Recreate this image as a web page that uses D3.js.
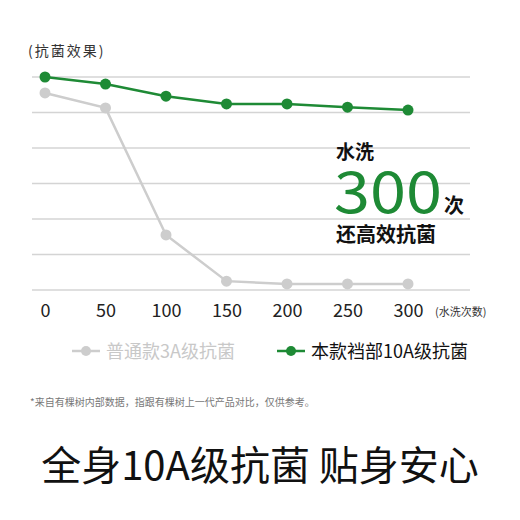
<!DOCTYPE html><html><head><meta charset="utf-8"><script src="https://cdn.jsdelivr.net/npm/d3@7"></script>
<style>body{margin:0;background:#fff}text{font-family:"Noto Sans CJK SC","Noto Sans",sans-serif}</style></head><body><svg id="c" width="520" height="520"></svg>
<script>
const categories=["0","50","100","150","200","250","300"];
const seriesNames=["普通款3A级抗菌","本款裆部10A级抗菌"];
const grayValues=[5.55,5.13,1.55,0.25,0.17,0.17,0.17];
const greenValues=[6.0,5.8,5.46,5.24,5.24,5.15,5.07];
const gridTicks=[0,1,2,3,4,5,6];
const svg=d3.select("#c");
const x=d3.scalePoint().domain(categories).range([45,408]);
const y=d3.scaleLinear().domain([0,6]).range([290,77]);
svg.append("g").selectAll("line").data(gridTicks).join("line").attr("x1",32).attr("x2",470).attr("y1",d=>y(d)).attr("y2",d=>y(d)).attr("stroke","#d4d4d4").attr("stroke-width",1.5);
svg.append("text").attr("x",28).attr("y",56).attr("font-size",14).attr("fill","#333").attr("letter-spacing",2).text("(抗菌效果)");
const ax=d3.axisBottom(x).tickSize(0).tickPadding(0);
const g=svg.append("g").attr("transform","translate(0,304)").call(ax);
g.select(".domain").remove();
g.selectAll("text").attr("font-size",18).attr("fill","#222").attr("font-family","Lato,sans-serif").attr("dy","0.7em");
svg.append("text").attr("x",435).attr("y",316).attr("font-size",11).attr("fill","#333").text("(水洗次数)");
const line=d3.line().x((d,i)=>x(categories[i])).y(d=>y(d));
[[grayValues,"#cdcdcd"],[greenValues,"#1e8a35"]].forEach(([vals,col])=>{
 svg.append("path").attr("d",line(vals)).attr("fill","none").attr("stroke",col).attr("stroke-width",2.5);
 svg.append("g").selectAll("circle").data(vals).join("circle").attr("cx",(d,i)=>x(categories[i])).attr("cy",d=>y(d)).attr("r",5.5).attr("fill",col);
});
svg.append("text").attr("x",336).attr("y",159).attr("font-size",19).attr("font-weight","bold").attr("fill","#111").text("水洗");
svg.append("text").attr("x",334).attr("y",213).attr("font-size",58).attr("font-family","Lato,sans-serif").attr("textLength",108).attr("lengthAdjust","spacingAndGlyphs").attr("fill","#1e8a35").text("300");
svg.append("text").attr("x",444).attr("y",213).attr("font-size",20).attr("font-weight","bold").attr("fill","#111").text("次");
svg.append("text").attr("x",336).attr("y",242).attr("font-size",20).attr("font-weight","bold").attr("fill","#111").text("还高效抗菌");
const leg=[[72,"#cdcdcd",seriesNames[0],"#c8c8c8"],[277,"#1e8a35",seriesNames[1],"#111"]];
leg.forEach(([lx,col,name,tc])=>{
 svg.append("line").attr("x1",lx).attr("x2",lx+28).attr("y1",351).attr("y2",351).attr("stroke",col).attr("stroke-width",2.5);
 svg.append("circle").attr("cx",lx+14).attr("cy",351).attr("r",5).attr("fill",col);
 svg.append("text").attr("x",lx+34).attr("y",358).attr("font-size",18).attr("fill",tc).text(name);
});
svg.append("text").attr("x",30).attr("y",406).attr("font-size",10).attr("fill","#777").text("*来自有棵树内部数据，指跟有棵树上一代产品对比，仅供参考。");
svg.append("text").attr("x",260).attr("y",480).attr("text-anchor","middle").attr("font-size",40).attr("font-weight","400").attr("fill","#111").text("全身10A级抗菌 贴身安心");
</script></body></html>
